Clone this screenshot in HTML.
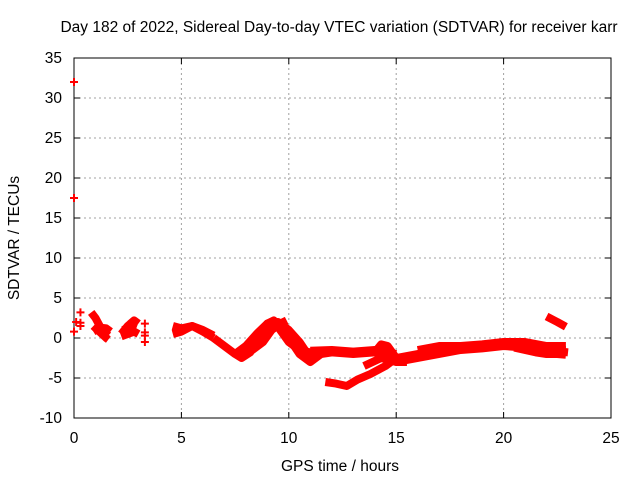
<!DOCTYPE html>
<html><head><meta charset="utf-8"><style>
body{margin:0;background:#fff}
svg text{font-family:"Liberation Sans",sans-serif;font-size:15.5px;fill:#000}
</style></head><body>
<svg width="640" height="480" xmlns="http://www.w3.org/2000/svg">
<text x="339" y="32" text-anchor="middle">Day 182 of 2022, Sidereal Day-to-day VTEC variation (SDTVAR) for receiver karr</text>
<g id="grid"></g>
<g id="axes"></g>
<g id="series"></g>
<text x="340" y="471" text-anchor="middle">GPS time / hours</text>
<text transform="translate(19,238) rotate(-90)" text-anchor="middle">SDTVAR / TECUs</text>
</svg>
<script>
const xTicks=[0,5,10,15,20,25];
const yTicks=[-10,-5,0,5,10,15,20,25,30,35];
const tracks=[
 {x:[0.8,1.0,1.2,1.4,1.6],y:[3.2,2.5,1.5,0.8,0.3]},
 {x:[0.9,1.1,1.3,1.5,1.6],y:[1.5,1.0,0.5,0.0,-0.2]},
 {x:[0.9,1.2,1.5,1.7],y:[0.8,1.3,1.2,0.8]},
 {x:[2.2,2.5,2.8,3.0],y:[0.5,1.5,2.2,1.8]},
 {x:[2.2,2.5,2.8,3.0],y:[0.2,0.5,0.8,0.5]},
 {x:[2.3,2.6,2.9],y:[1.0,1.5,1.2]},
 {x:[4.6,5,5.5,6,6.5],y:[1.5,1.2,1.5,1,0.3]},
 {x:[4.6,5,5.5,6,6.5],y:[0.5,0.8,1.5,0.8,0]},
 {x:[6.5,7,7.5,7.8,8.2,8.6,9,9.3,9.6,10,10.5,11],y:[0,-1,-2,-2.5,-1.8,0,1.8,2.2,1,-0.5,-1.5,-1.8]},
 {x:[7.5,8,8.5,9,9.5,10,10.5,11,11.5],y:[-2,-1,0.5,1.8,2,1,-0.5,-2.5,-2]},
 {x:[7.8,8.3,8.8,9.2,9.6,9.9],y:[-1.5,-1.5,-0.5,1,1.8,2.2]},
 {x:[10,10.5,11,11.5,12],y:[0,-2,-3,-2,-1.8]},
 {x:[11,12,13,14,15],y:[-1.7,-1.8,-2,-1.8,-2.5]},
 {x:[11,12,13,14,15],y:[-1.6,-1.5,-1.7,-1.5,-2]},
 {x:[11.7,12.2,12.7,13.2,13.8,14.5,15],y:[-5.5,-5.7,-6,-5.2,-4.5,-3.5,-2.5]},
 {x:[14,14.3,14.6,15],y:[-1.8,-0.8,-1,-2.5]},
 {x:[13.5,14.3,15,15.5],y:[-3.5,-2.5,-3,-3]},
 {x:[15,16,17,18,19,20,21,22,23],y:[-2.5,-2,-1.5,-1.3,-1.0,-0.7,-1,-1.5,-1.8]},
 {x:[15,16,17,18,19,20,21,22,22.9],y:[-3,-2.5,-2,-1.5,-1.3,-1.0,-1.2,-1.5,-1.5]},
 {x:[16,17,18,19,20,21,22,22.9],y:[-1.5,-1,-1,-0.8,-0.5,-0.5,-1,-1]},
 {x:[20.5,21,21.5,22,22.5,22.9],y:[-1.2,-1.5,-1.8,-2,-2,-2.1]},
 {x:[22,22.5,22.9],y:[2.7,2.0,1.4]}
];
const pointsX=[0,0,0.1,0.3,0.3,0.3,0,3.3,3.3,3.3,3.3];
const pointsY=[32,17.5,2,3.2,1.5,1.9,0.8,1.8,0.7,0.3,-0.5];
const L=74,R=611,T=58,B=418;
const sx=v=>L+(v-0)/25*(R-L), sy=v=>B-(v+10)/45*(B-T);
const NS="http://www.w3.org/2000/svg";
function mk(tag,attrs,parent){const e=document.createElementNS(NS,tag);for(const k in attrs)e.setAttribute(k,attrs[k]);parent.appendChild(e);return e;}
const grid=document.getElementById('grid'),axes=document.getElementById('axes'),ser=document.getElementById('series');
xTicks.forEach(t=>{const X=sx(t);
 if(t>0&&t<25){const g=mk('line',{x1:X,x2:X,y1:T,y2:B,stroke:'#a0a0a0','stroke-dasharray':'2,3'},grid);
 }
 mk('line',{x1:X,x2:X,y1:B,y2:B-6,stroke:'#000'},axes);mk('line',{x1:X,x2:X,y1:T,y2:T+6,stroke:'#000'},axes);
 const tx=mk('text',{x:X,y:B+25,'text-anchor':'middle'},axes);tx.textContent=t;
 });
yTicks.forEach(t=>{const Y=sy(t);
 if(t>-10&&t<35){const g=mk('line',{x1:L,x2:R,y1:Y,y2:Y,stroke:'#a0a0a0','stroke-dasharray':'2,3'},grid);
 }
 mk('line',{x1:L,x2:L+6,y1:Y,y2:Y,stroke:'#000'},axes);mk('line',{x1:R,x2:R-6,y1:Y,y2:Y,stroke:'#000'},axes);
 const tx=mk('text',{x:L-12,y:Y+5,'text-anchor':'end'},axes);tx.textContent=t;
 });
mk('rect',{x:L,y:T,width:R-L,height:B-T,fill:'none',stroke:'#000'},axes);
tracks.forEach(tr=>{
 const pts=tr.x.map((v,i)=>sx(v)+','+sy(tr.y[i])).join(' ');
 const p=mk('polyline',{points:pts,fill:'none',stroke:'#f00','stroke-width':8,'stroke-linejoin':'round'},ser);
 
});
pointsX.forEach((v,i)=>{const X=sx(v),Y=sy(pointsY[i]);
 const p=mk('path',{d:`M${X-4},${Y}H${X+4}M${X},${Y-4}V${Y+4}`,stroke:'#f00','stroke-width':2},ser);
 });
</script>
</body></html>
